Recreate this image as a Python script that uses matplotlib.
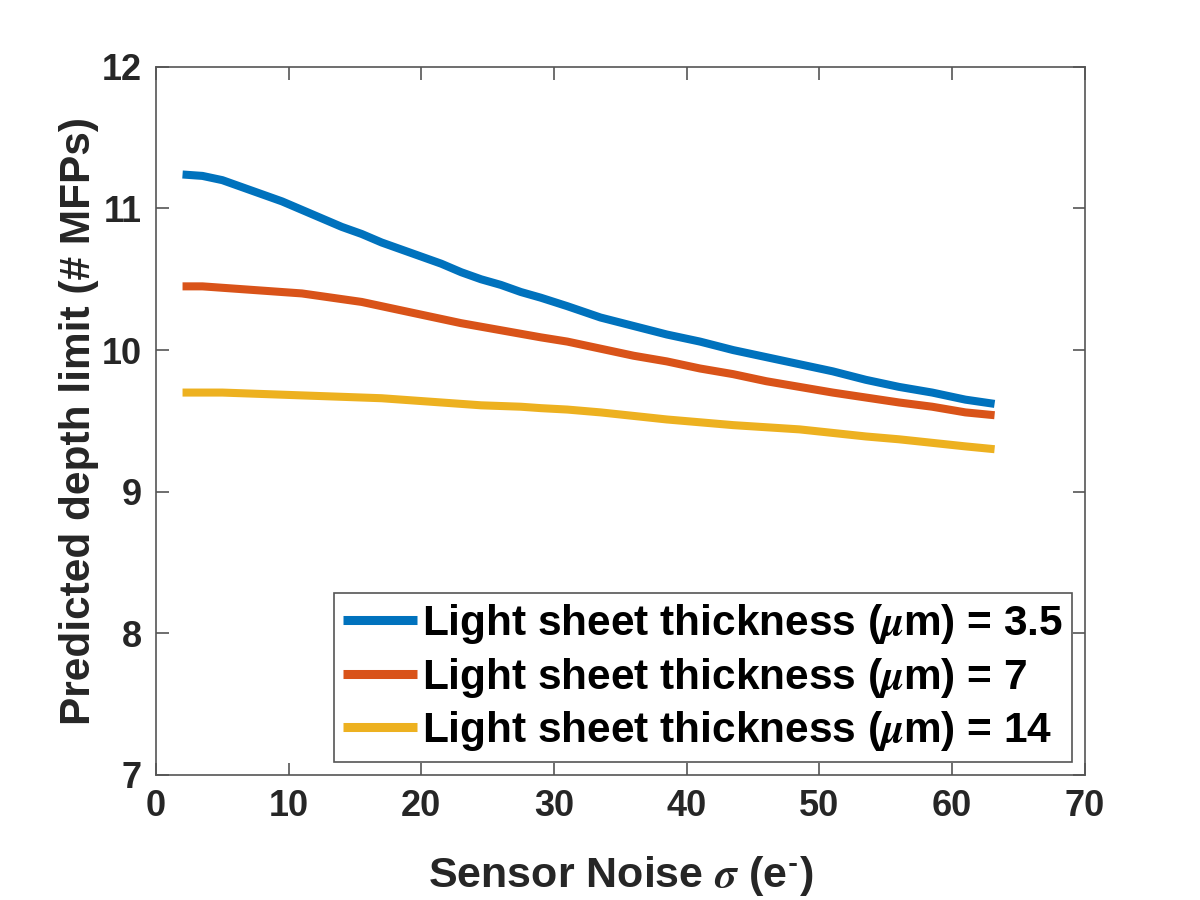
import matplotlib
matplotlib.use("Agg")
import matplotlib.pyplot as plt

plt.rcParams['font.family'] = ['Liberation Sans', 'DejaVu Sans']
plt.rcParams['font.weight'] = 'bold'
plt.rcParams['mathtext.fontset'] = 'stix'

noise = [2, 3.5, 5, 6.5, 8, 9.5, 11, 12.5, 14, 15.5, 17, 18.5, 20, 21.5, 23, 24.5,
         26, 27.5, 29, 31, 33.5, 36, 38.5, 41, 43.5, 46, 48.5, 51, 53.5, 56, 58.5,
         61, 63.2]
depth_3p5 = [11.24, 11.23, 11.20, 11.15, 11.10, 11.05, 10.99, 10.93, 10.87, 10.82,
             10.76, 10.71, 10.66, 10.61, 10.55, 10.50, 10.46, 10.41, 10.37, 10.31,
             10.23, 10.17, 10.11, 10.06, 10.00, 9.95, 9.90, 9.85, 9.79, 9.74, 9.70,
             9.65, 9.62]
depth_7 = [10.45, 10.45, 10.44, 10.43, 10.42, 10.41, 10.40, 10.38, 10.36, 10.34,
           10.31, 10.28, 10.25, 10.22, 10.19, 10.165, 10.14, 10.115, 10.09, 10.06,
           10.01, 9.96, 9.92, 9.87, 9.83, 9.78, 9.74, 9.70, 9.665, 9.63, 9.60,
           9.56, 9.54]
depth_14 = [9.70, 9.70, 9.70, 9.695, 9.69, 9.685, 9.68, 9.675, 9.67, 9.665,
            9.66, 9.65, 9.64, 9.63, 9.62, 9.61, 9.605, 9.60, 9.59, 9.58,
            9.56, 9.535, 9.51, 9.49, 9.47, 9.455, 9.44, 9.415, 9.39, 9.37, 9.345,
            9.32, 9.30]
labels = [r'Light sheet thickness ($\mu$m) = 3.5',
          r'Light sheet thickness ($\mu$m) = 7',
          r'Light sheet thickness ($\mu$m) = 14']
colors = ['#0072BD', '#D95319', '#EDB120']
xticks = [0, 10, 20, 30, 40, 50, 60, 70]
yticks = [7, 8, 9, 10, 11, 12]

fig = plt.figure(figsize=(12, 9), dpi=100)
ax = fig.add_axes([0.13, 0.139, 0.774, 0.7867])
for y, c, l in zip([depth_3p5, depth_7, depth_14], colors, labels):
    ax.plot(noise, y, color=c, lw=5.8, label=l, solid_capstyle='butt',
            solid_joinstyle='round')

ax.set_xlim(0, 70)
ax.set_ylim(7, 12)
ax.set_xticks(xticks)
ax.set_yticks(yticks)
axc = '#262626'
for s in ax.spines.values():
    s.set_color('#555555')
    s.set_linewidth(1.2)
ax.tick_params(direction='in', length=9, width=1.2, color='#555555',
               labelsize=26, labelcolor=axc, top=True, right=True, pad=10)
for t in ax.get_xticklabels() + ax.get_yticklabels():
    t.set_fontweight('bold')

ax.set_xlabel(r'Sensor Noise $\sigma$ (e$^{\text{-}}$)', fontsize=31,
              fontweight='bold', color=axc, labelpad=22)
ax.set_ylabel('Predicted depth limit (# MFPs)', fontsize=30.5,
              fontweight='bold', color=axc, labelpad=2)

leg = ax.legend(loc='lower right', handlelength=1.75,
                handletextpad=0.1, borderpad=0.22, labelspacing=0.22,
                fancybox=False, framealpha=1, borderaxespad=0.3,
                prop={'weight': 'bold', 'size': 30.5})
leg.get_frame().set_edgecolor('#555555')
leg.get_frame().set_linewidth(1.2)
for h in leg.get_lines():
    h.set_linewidth(6.5)

fig.savefig('out.png', dpi=100, facecolor='white')
